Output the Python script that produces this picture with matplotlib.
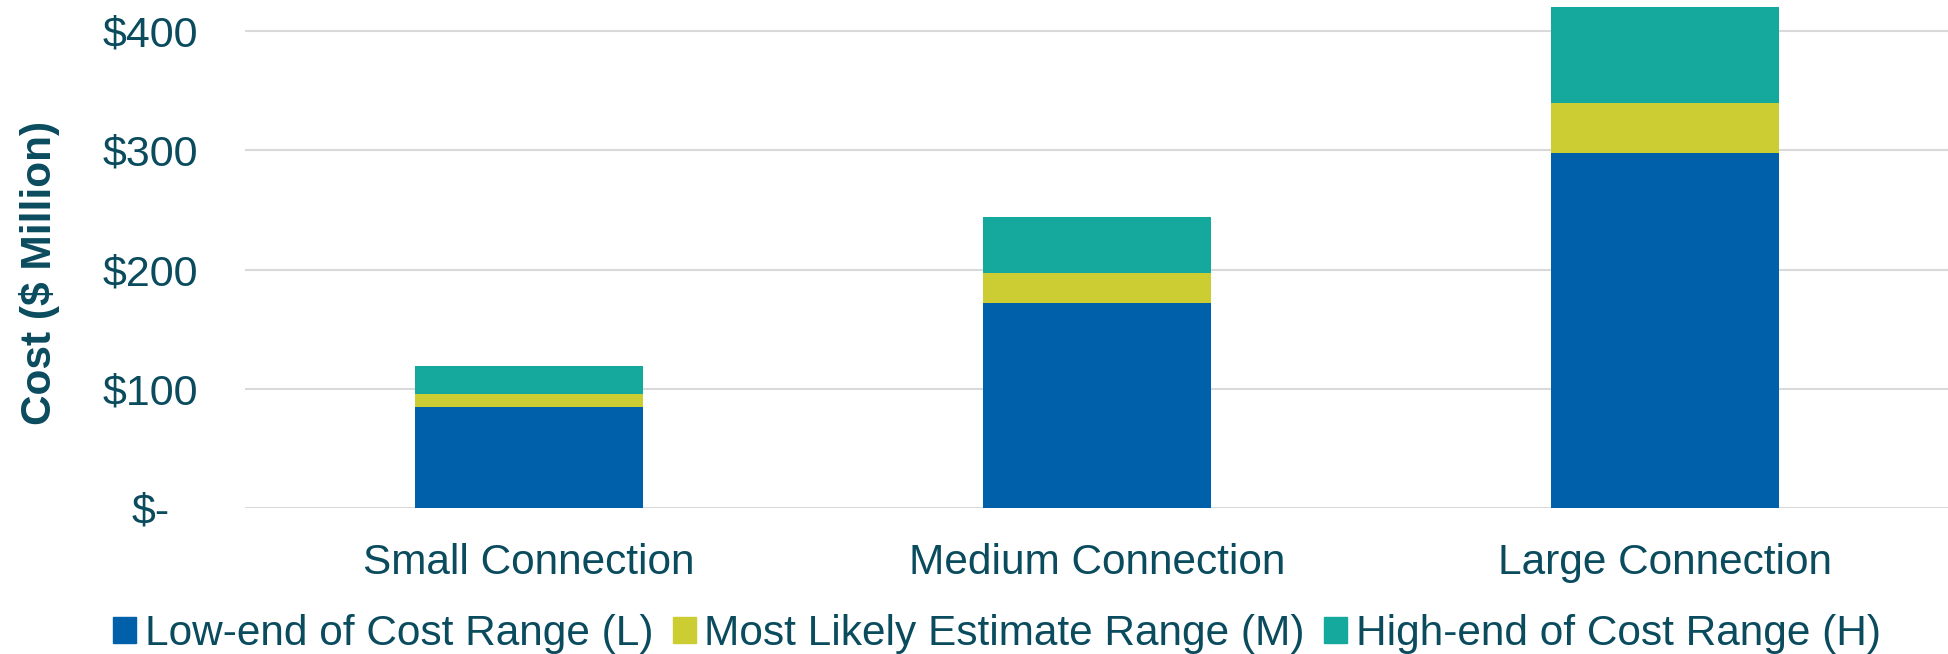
import numpy as np
import matplotlib
matplotlib.use("Agg")
import matplotlib.pyplot as plt
from matplotlib.patches import Patch

plt.rcParams["font.family"] = ["Liberation Sans", "DejaVu Sans"]

# data ($ million), stacked increments
categories = ["Small Connection", "Medium Connection", "Large Connection"]
low_end = [85, 172, 298]
most_likely = [11, 25, 42]
high_end = [23, 47, 80]
series_names = ["Low-end of Cost Range (L)", "Most Likely Estimate Range (M)",
                "High-end of Cost Range (H)"]
y_ticks = [0, 100, 200, 300, 400]
y_tick_labels = ["$-", "$100", "$200", "$300", "$400"]

COLORS = ["#0060A9", "#CBCD33", "#14A99C"]
TEXT = "#0A4B5E"
GRID = "#D9D9D9"
FS = 30.5


def main():
    fig = plt.figure(figsize=(19.49, 6.54), dpi=100)
    ax = fig.add_axes([245 / 1949, 1 - 508 / 654, 1 - 245 / 1949, 508 / 654])

    x = np.arange(len(categories))
    bottom = np.zeros(len(categories))
    for vals, color in zip([low_end, most_likely, high_end], COLORS):
        ax.bar(x, vals, width=0.4, bottom=bottom, color=color, zorder=3)
        bottom += np.array(vals)

    ax.set_xlim(-0.5, 2.5)
    ax.set_ylim(0, 426)
    ax.set_yticks(y_ticks)
    ax.set_yticklabels(y_tick_labels)
    ax.set_xticks(x)
    ax.set_xticklabels(categories)
    ax.tick_params(axis="y", length=0, pad=68, labelsize=31, labelcolor=TEXT)
    ax.tick_params(axis="x", length=0, pad=25, labelsize=FS, labelcolor=TEXT)
    for lbl in ax.get_yticklabels():
        lbl.set_horizontalalignment("center")
    ax.grid(axis="y", color=GRID, lw=1.5, zorder=0)
    for s in ax.spines.values():
        s.set_visible(False)

    fig.text(40 / 1949, 1 - 273 / 654, "Cost ($ Million)", rotation=90,
             ha="center", va="center", fontsize=FS, fontweight="bold", color=TEXT)

    handles = [Patch(color=c) for c in COLORS]
    fig.legend(handles, series_names, loc="center", ncol=3,
               bbox_to_anchor=(0.5115, 1 - 634 / 654), frameon=False,
               fontsize=FS, labelcolor=TEXT, handlelength=0.55, handleheight=0.55,
               handletextpad=0.2, columnspacing=0.45, borderaxespad=0)

    fig.savefig("out.png", dpi=100)


if __name__ == "__main__":
    main()
